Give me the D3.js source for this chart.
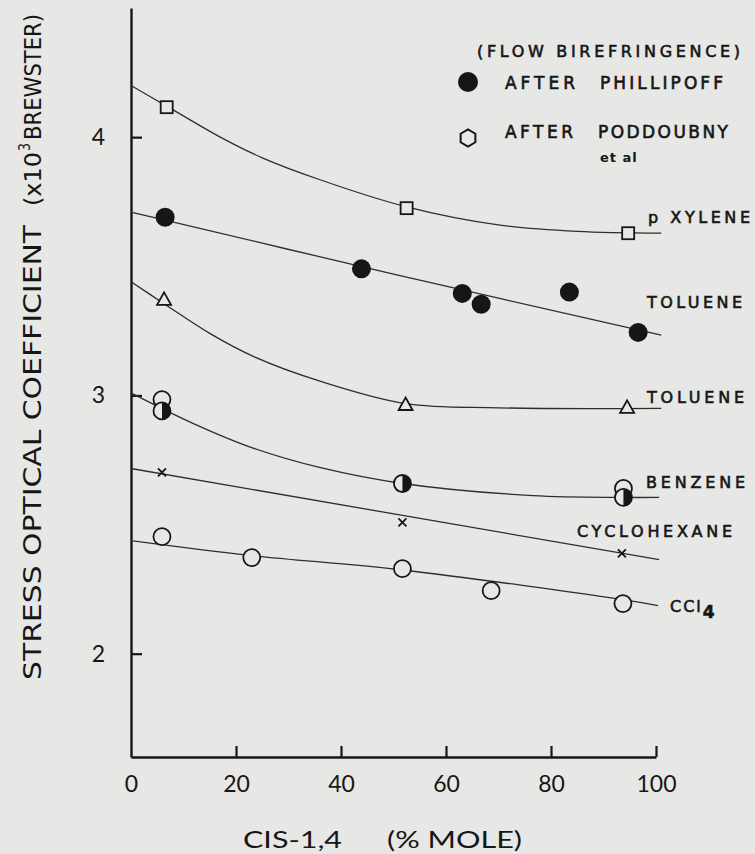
<!DOCTYPE html>
<html>
<head>
<meta charset="utf-8">
<script src="https://cdn.jsdelivr.net/npm/d3@7"></script>
<style>
  body { margin: 0; background: #e7e7e5; }
  svg { display: block; }
  text { fill: #161616; font-family: "DejaVu Sans", sans-serif; }
  .lab { stroke: #161616; stroke-width: 0.6px; }
</style>
</head>
<body>
<svg id="chart" width="755" height="854"></svg>
<script>
// x values are % mole cis-1,4 ; y values are stress optical coefficient (x10^3 brewster)
var xTicks = [0, 20, 40, 60, 80, 100];
var yTicks = [2, 3, 4];

// p-xylene, open squares (Poddoubny)
var xyleneMarks = [[6.8, 4.116], [52.5, 3.725], [94.7, 3.628]];
var xyleneCurve = [[0, 4.20], [6.8, 4.12], [17, 4.0], [25, 3.92], [36, 3.835], [52.5, 3.73], [70, 3.66], [85, 3.635], [101, 3.628]];

// toluene, filled circles (Phillipoff)
var toluenePMarks = [[6.5, 3.69], [43.9, 3.49], [63.1, 3.395], [66.7, 3.353], [83.5, 3.40], [96.6, 3.244]];
var toluenePCurve = [[0, 3.71], [50, 3.47], [101, 3.233]];

// toluene, open triangles (Poddoubny)
var tolueneTMarks = [[6.3, 3.368], [52.3, 2.961], [94.5, 2.95]];
var tolueneTCurve = [[0, 3.44], [6.3, 3.355], [15, 3.24], [23.4, 3.15], [36, 3.055], [52.3, 2.968], [70, 2.952], [101, 2.95]];

// benzene, half filled circles (Phillipoff) and open circles (Poddoubny)
var benzeneOpen = [[5.9, 2.984], [93.8, 2.64]];
var benzeneHalf = [[5.9, 2.94], [51.7, 2.659], [93.8, 2.605]];
var benzeneCurve = [[0, 3.01], [12, 2.89], [23.4, 2.795], [36.1, 2.72], [51.7, 2.659], [76.6, 2.612], [93.8, 2.605], [100.6, 2.605]];

// cyclohexane, crosses
var cycloMarks = [[5.9, 2.702], [51.7, 2.508], [93.5, 2.388]];
var cycloCurve = [[0, 2.717], [100.6, 2.364]];

// CCl4, open circles
var cclMarks = [[5.9, 2.453], [23.0, 2.372], [51.7, 2.329], [68.6, 2.244], [93.7, 2.194]];
var cclCurve = [[0, 2.438], [23, 2.38], [51.3, 2.325], [93.7, 2.209], [100.4, 2.186]];

var ink = "#161616";
var bg = "#e7e7e5";
var narrow = "'DejaVu Sans Condensed', 'Liberation Sans Narrow', 'DejaVu Sans', sans-serif";

var svg = d3.select("#chart");

var x = d3.scaleLinear().domain([0, 100]).range([131, 656]);
var y = d3.scaleLinear().domain([1.6, 4.5]).range([757, 8]);

// axes
var xAxis = svg.append("g")
  .attr("transform", "translate(0," + y(1.6) + ")")
  .call(d3.axisBottom(x).tickValues(xTicks).tickSize(-11).tickPadding(19).tickSizeOuter(0));
xAxis.select(".domain").attr("stroke", ink).attr("stroke-width", 2.4);
xAxis.selectAll(".tick line").attr("stroke", ink).attr("stroke-width", 2.2)
  .attr("display", function (d) { return d === 0 ? "none" : null; });
xAxis.selectAll(".tick text")
  .style("font-family", "Lato, 'DejaVu Sans', sans-serif")
  .attr("font-size", 23).attr("fill", ink);

var yAxis = svg.append("g")
  .attr("transform", "translate(" + x(0) + ",0)")
  .call(d3.axisLeft(y).tickValues(yTicks).tickFormat(d3.format("d"))
    .tickSize(-11).tickPadding(26).tickSizeOuter(0));
yAxis.select(".domain").attr("stroke", ink).attr("stroke-width", 2.4);
yAxis.selectAll(".tick line").attr("stroke", ink).attr("stroke-width", 2.2);
yAxis.selectAll(".tick text")
  .style("font-family", "Lato, 'DejaVu Sans', sans-serif")
  .attr("font-size", 23).attr("fill", ink);

// axis titles
svg.append("text")
  .attr("x", 243).attr("y", 848)
  .attr("font-size", 24)
  .attr("textLength", 99).attr("lengthAdjust", "spacingAndGlyphs")
  .style("font-family", "Lato, 'DejaVu Sans', sans-serif")
  .text("CIS-1,4");
svg.append("text")
  .attr("x", 387).attr("y", 848)
  .attr("font-size", 24)
  .attr("textLength", 135).attr("lengthAdjust", "spacingAndGlyphs")
  .style("font-family", "Lato, 'DejaVu Sans', sans-serif")
  .text("(% MOLE)");

var yTitle = svg.append("g").attr("transform", "translate(41,0) rotate(-90)");
var yTitleParts = [
  { t: "STRESS OPTICAL COEFFICIENT", from: 680, to: 225, size: 25, dy: 0 },
  { t: "(x10", from: 206, to: 152, size: 23, dy: 0 },
  { t: "3", from: 151, to: 143, size: 15, dy: -11 },
  { t: "BREWSTER)", from: 140, to: 14, size: 23, dy: 0 }
];
yTitle.selectAll("text")
  .data(yTitleParts)
  .enter()
  .append("text")
  .attr("x", function (d) { return -d.from; })
  .attr("y", function (d) { return d.dy; })
  .attr("font-size", function (d) { return d.size; })
  .attr("textLength", function (d) { return d.from - d.to; })
  .attr("lengthAdjust", "spacingAndGlyphs")
  .style("font-family", narrow)
  .text(function (d) { return d.t; });

// curves
var line = d3.line()
  .x(function (d) { return x(d[0]); })
  .y(function (d) { return y(d[1]); })
  .curve(d3.curveCatmullRom.alpha(0.5));

var curves = [xyleneCurve, toluenePCurve, tolueneTCurve, benzeneCurve, cycloCurve, cclCurve];
svg.append("g").selectAll("path")
  .data(curves)
  .enter()
  .append("path")
  .attr("d", line)
  .attr("fill", "none")
  .attr("stroke", "#2e2e2e")
  .attr("stroke-width", 1.3);

// markers
function pos(d) { return "translate(" + x(d[0]) + "," + y(d[1]) + ")"; }

svg.append("g").selectAll("rect")
  .data(xyleneMarks)
  .enter()
  .append("rect")
  .attr("transform", pos)
  .attr("x", -6).attr("y", -6).attr("width", 12).attr("height", 12)
  .attr("fill", bg).attr("stroke", ink).attr("stroke-width", 1.8);

svg.append("g").selectAll("circle")
  .data(toluenePMarks)
  .enter()
  .append("circle")
  .attr("transform", pos)
  .attr("r", 9.5)
  .attr("fill", ink);

svg.append("g").selectAll("path")
  .data(tolueneTMarks)
  .enter()
  .append("path")
  .attr("transform", pos)
  .attr("d", "M0,-8L7,4.5L-7,4.5Z")
  .attr("fill", bg).attr("stroke", ink).attr("stroke-width", 1.8);

svg.append("g").selectAll("circle")
  .data(benzeneOpen.concat(cclMarks))
  .enter()
  .append("circle")
  .attr("transform", pos)
  .attr("r", 8.5)
  .attr("fill", bg).attr("stroke", ink).attr("stroke-width", 1.8);

var half = svg.append("g").selectAll("g")
  .data(benzeneHalf)
  .enter()
  .append("g")
  .attr("transform", pos);
half.append("circle")
  .attr("r", 8.5)
  .attr("fill", bg).attr("stroke", ink).attr("stroke-width", 1.8);
half.append("path")
  .attr("d", "M0,-8.5A8.5,8.5 0 0 1 0,8.5Z")
  .attr("fill", ink);

svg.append("g").selectAll("path")
  .data(cycloMarks)
  .enter()
  .append("path")
  .attr("transform", pos)
  .attr("d", "M-4,-4L4,4M-4,4L4,-4")
  .attr("stroke", ink).attr("stroke-width", 1.8);

// series labels
var labels = [
  { t: "p XYLENE", x: 648, y: 223, w: 102 },
  { t: "TOLUENE", x: 647, y: 308, w: 95 },
  { t: "TOLUENE", x: 647, y: 403, w: 97 },
  { t: "BENZENE", x: 646, y: 488, w: 99 },
  { t: "CYCLOHEXANE", x: 577, y: 537, w: 155 }
];
svg.append("g").selectAll("text")
  .data(labels)
  .enter()
  .append("text")
  .attr("class", "lab")
  .attr("x", function (d) { return d.x; })
  .attr("y", function (d) { return d.y; })
  .attr("font-size", 16)
  .attr("textLength", function (d) { return d.w; })
  .attr("lengthAdjust", "spacing")
  .text(function (d) { return d.t; });

var ccl = svg.append("text").attr("class", "lab").attr("x", 670).attr("y", 612).attr("font-size", 16)
  .attr("letter-spacing", 2);
ccl.append("tspan").text("CCl");
ccl.append("tspan").attr("dy", 6).attr("font-size", 17).attr("font-weight", "bold").text("4");

// legend
svg.append("text")
  .attr("class", "lab")
  .attr("x", 477).attr("y", 57)
  .attr("font-size", 16)
  .attr("textLength", 263).attr("lengthAdjust", "spacing")
  .text("(FLOW BIREFRINGENCE)");

svg.append("circle").attr("cx", 468).attr("cy", 82).attr("r", 10).attr("fill", ink);
svg.append("text").attr("class", "lab").attr("x", 505).attr("y", 89).attr("font-size", 17)
  .attr("textLength", 70).attr("lengthAdjust", "spacing").text("AFTER");
svg.append("text").attr("class", "lab").attr("x", 600).attr("y", 89).attr("font-size", 17)
  .attr("textLength", 123).attr("lengthAdjust", "spacing").text("PHILLIPOFF");

var hex = d3.range(6).map(function (i) {
  var a = Math.PI / 6 + i * Math.PI / 3;
  return [468 + 8.5 * Math.cos(a), 138 + 8.5 * Math.sin(a)];
});
svg.append("path")
  .attr("d", "M" + hex.join("L") + "Z")
  .attr("fill", "none").attr("stroke", ink).attr("stroke-width", 2);
svg.append("text").attr("class", "lab").attr("x", 505).attr("y", 138).attr("font-size", 17)
  .attr("textLength", 68).attr("lengthAdjust", "spacing").text("AFTER");
svg.append("text").attr("class", "lab").attr("x", 598).attr("y", 138).attr("font-size", 17)
  .attr("textLength", 130).attr("lengthAdjust", "spacing").text("PODDOUBNY");
svg.append("text").attr("x", 600).attr("y", 162).attr("font-size", 13)
  .attr("font-weight", "bold").attr("letter-spacing", 1).text("et  al");
</script>
</body>
</html>
